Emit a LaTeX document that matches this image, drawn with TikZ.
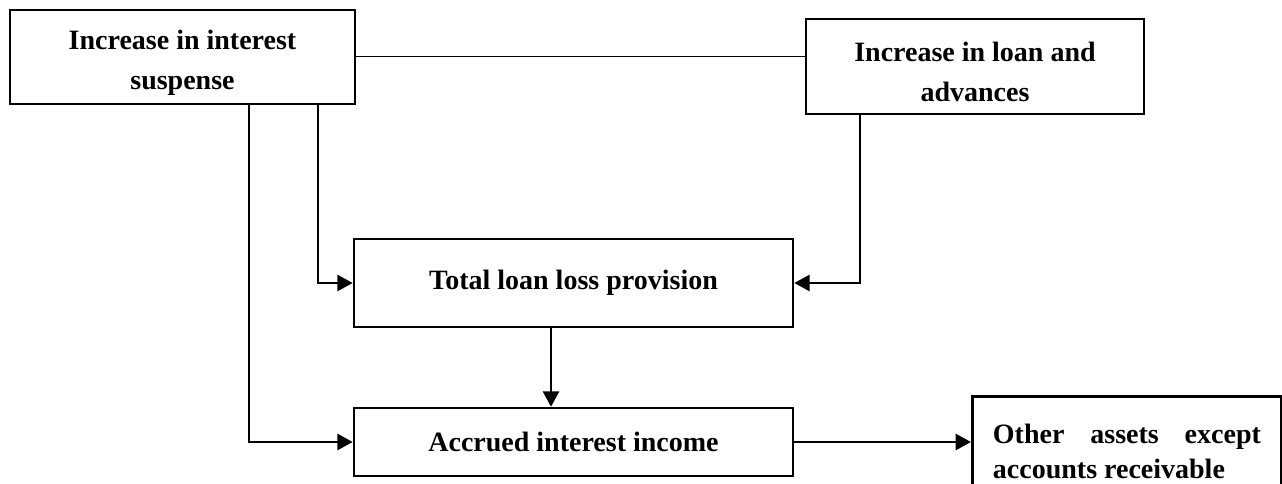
\documentclass[tikz,border=0pt]{standalone}
\usepackage{fontspec}
\setmainfont{Liberation Serif}
\usetikzlibrary{arrows.meta}

\definecolor{linecolor}{RGB}{0,0,0}

\tikzset{
    flowbox/.style={draw=linecolor, line width=1.9pt, inner sep=0pt, align=center,
        font=\fontsize{21}{30}\selectfont\bfseries},
    flowarrow/.style={draw=linecolor, line width=1.9pt, -{Triangle[length=11.5pt,width=12pt]}}
}

\begin{document}
\begin{tikzpicture}[x=0.75pt, y=-0.75pt]
    % Fix the page size
    \useasboundingbox (0,0) rectangle (1282,484);
    \clip (0,0) rectangle (1282,484);

    % Draw the boxes
    \node[flowbox, minimum width=258.75pt, minimum height=70.5pt] (suspense) at (182.5,57)
        {\rule{0pt}{23pt}Increase in interest\\suspense};
    \node[flowbox, minimum width=253.5pt, minimum height=71.25pt] (loans) at (975,66.5)
        {\rule{0pt}{23pt}Increase in loan and\\advances};
    \node[flowbox, minimum width=329.25pt, minimum height=66pt] (provision) at (573.5,283) {Total loan loss provision};
    \node[flowbox, minimum width=329.25pt, minimum height=51pt] (accrued) at (573.5,442) {Accrued interest income};
    \node[flowbox, anchor=north west, align=justify, text width=201pt, inner xsep=15.5pt, inner ysep=21pt,
        font=\fontsize{21}{26.25}\selectfont\bfseries] (otherassets) at (971,395)
        {Other assets except\linebreak accounts receivable};

    % Points where the lines leave the boxes
    \coordinate (s1) at (318,104);
    \coordinate (s2) at (249,104);
    \coordinate (l1) at (860,114);
    \coordinate (p1) at (551,327);

    % Draw the connectors
    \draw[linecolor, line width=0.75pt] (suspense.east) -- (suspense.east -| loans.west);
    \draw[flowarrow] (s1) |- (provision.west);
    \draw[flowarrow] (l1) |- (provision.east);
    \draw[flowarrow] (p1) -- (p1 |- accrued.north);
    \draw[flowarrow] (s2) |- (accrued.west);
    \draw[flowarrow] (accrued.east) -- (accrued.east -| otherassets.west);
\end{tikzpicture}
\end{document}
